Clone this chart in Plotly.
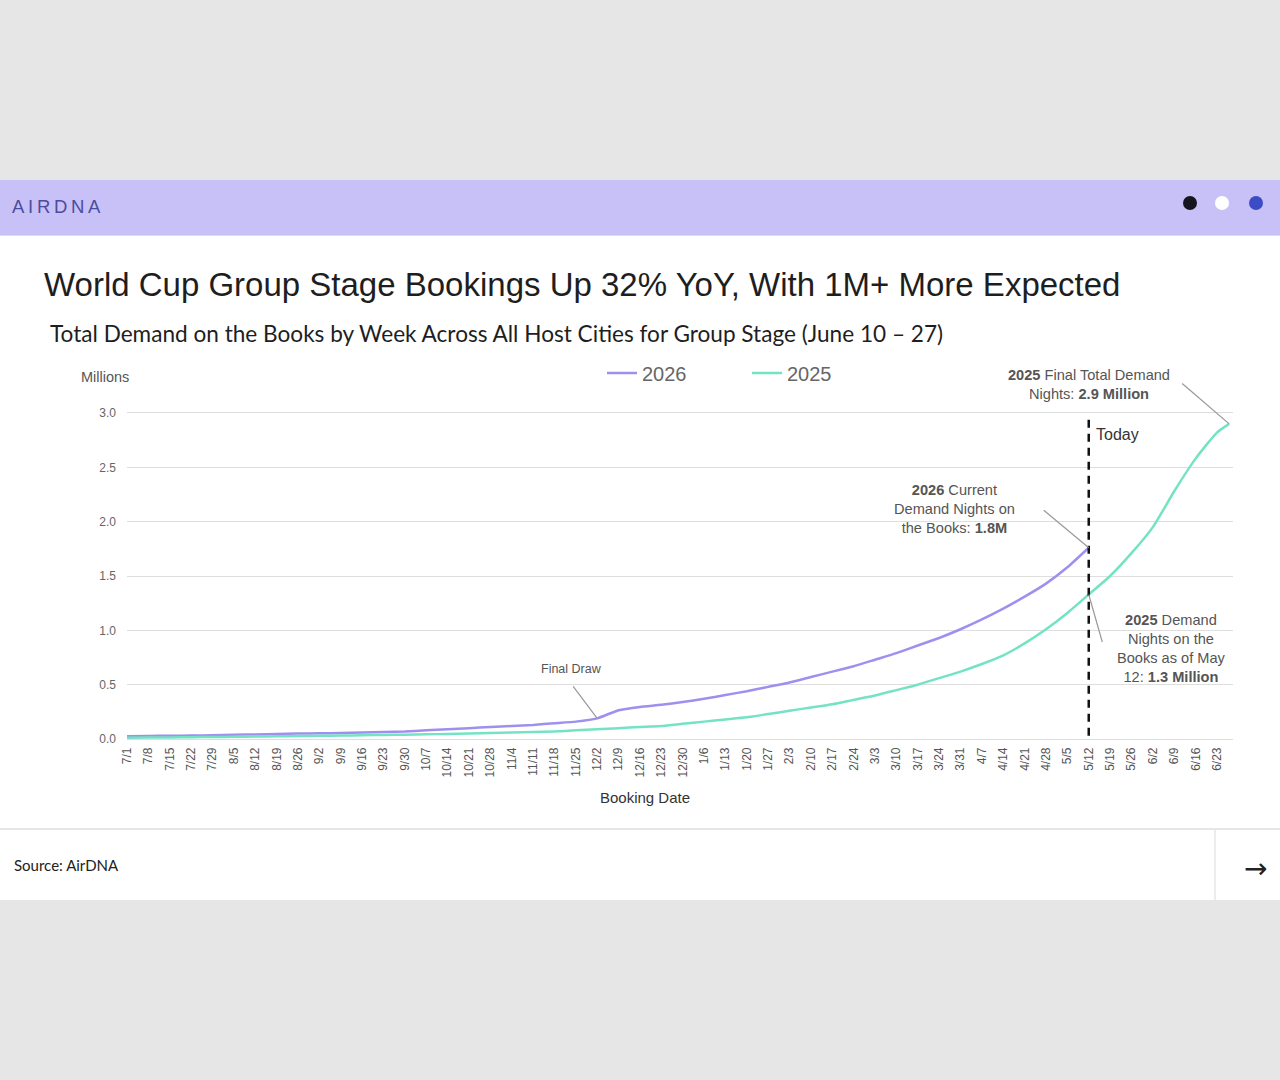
import plotly.graph_objects as go

# ---------------- data ----------------
week_dates = [
    "2025-07-01", "2025-07-08", "2025-07-15", "2025-07-22", "2025-07-29",
    "2025-08-05", "2025-08-12", "2025-08-19", "2025-08-26",
    "2025-09-02", "2025-09-09", "2025-09-16", "2025-09-23", "2025-09-30",
    "2025-10-07", "2025-10-14", "2025-10-21", "2025-10-28",
    "2025-11-04", "2025-11-11", "2025-11-18", "2025-11-25",
    "2025-12-02", "2025-12-09", "2025-12-16", "2025-12-23", "2025-12-30",
    "2026-01-06", "2026-01-13", "2026-01-20", "2026-01-27",
    "2026-02-03", "2026-02-10", "2026-02-17", "2026-02-24",
    "2026-03-03", "2026-03-10", "2026-03-17", "2026-03-24", "2026-03-31",
    "2026-04-07", "2026-04-14", "2026-04-21", "2026-04-28",
    "2026-05-05", "2026-05-12", "2026-05-19", "2026-05-26",
    "2026-06-02", "2026-06-09", "2026-06-16", "2026-06-23",
]
week_labels = [
    "7/1", "7/8", "7/15", "7/22", "7/29", "8/5", "8/12", "8/19", "8/26",
    "9/2", "9/9", "9/16", "9/23", "9/30", "10/7", "10/14", "10/21", "10/28",
    "11/4", "11/11", "11/18", "11/25", "12/2", "12/9", "12/16", "12/23", "12/30",
    "1/6", "1/13", "1/20", "1/27", "2/3", "2/10", "2/17", "2/24",
    "3/3", "3/10", "3/17", "3/24", "3/31", "4/7", "4/14", "4/21", "4/28",
    "5/5", "5/12", "5/19", "5/26", "6/2", "6/9", "6/16", "6/23",
]

# 2026 demand (millions), booking dates 7/1 .. 5/12 (today)
dates_2026 = week_dates[:46]
values_2026 = [
    0.025, 0.028, 0.030, 0.032, 0.035, 0.040, 0.042, 0.045, 0.050,
    0.052, 0.055, 0.060, 0.065, 0.070, 0.080, 0.090, 0.100, 0.110,
    0.120, 0.130, 0.145, 0.160, 0.190, 0.265, 0.295, 0.315, 0.340,
    0.370, 0.405, 0.440, 0.480, 0.520, 0.570, 0.620, 0.670,
    0.730, 0.790, 0.860, 0.930, 1.010, 1.100, 1.200, 1.310, 1.430,
    1.580, 1.760,
]

# 2025 demand (millions), same calendar position one year earlier, to final
dates_2025 = week_dates + ["2026-06-27"]
values_2025 = [
    0.012, 0.013, 0.015, 0.017, 0.019, 0.020, 0.022, 0.025, 0.027,
    0.030, 0.032, 0.035, 0.037, 0.040, 0.043, 0.047, 0.050, 0.055,
    0.060, 0.065, 0.070, 0.080, 0.090, 0.100, 0.110, 0.120, 0.140,
    0.160, 0.180, 0.200, 0.230, 0.260, 0.290, 0.320, 0.360,
    0.400, 0.450, 0.500, 0.560, 0.620, 0.690, 0.770, 0.880, 1.010,
    1.160, 1.330, 1.500, 1.710, 1.950, 2.280, 2.580, 2.820,
    2.900,
]

y_ticks = [0.0, 0.5, 1.0, 1.5, 2.0, 2.5, 3.0]
today_date = "2026-05-12"
final_draw_date = "2025-12-02"

PURPLE = "#9d90ee"
TEAL = "#74e3c4"
FONT = "Arial, Liberation Sans, sans-serif"
W, H = 1280, 1080


def px_x(p):
    return p / W


def px_y(p):
    return 1 - p / H


fig = go.Figure()
fig.add_trace(go.Scatter(x=dates_2026, y=values_2026, name="2026", mode="lines",
                         line=dict(color=PURPLE, width=2.5, shape="spline", smoothing=0.4),
                         cliponaxis=False))
fig.add_trace(go.Scatter(x=dates_2025, y=values_2025, name="2025", mode="lines",
                         line=dict(color=TEAL, width=2.5, shape="spline", smoothing=0.6),
                         cliponaxis=False))

shapes = []
# white card
shapes.append(dict(type="rect", xref="paper", yref="paper", x0=0, x1=1,
                   y0=px_y(900), y1=px_y(180), fillcolor="white", line_width=0, layer="below"))
# header bar
shapes.append(dict(type="rect", xref="paper", yref="paper", x0=0, x1=1,
                   y0=px_y(235), y1=px_y(180), fillcolor="#c8c1f8", line_width=0, layer="below"))
shapes.append(dict(type="line", xref="paper", yref="paper", x0=0, x1=1,
                   y0=px_y(235.5), y1=px_y(235.5), line=dict(color="#dcdcf0", width=1), layer="below"))
# footer separators
shapes.append(dict(type="line", xref="paper", yref="paper", x0=0, x1=1,
                   y0=px_y(829), y1=px_y(829), line=dict(color="#e6e6e6", width=2), layer="below"))
shapes.append(dict(type="line", xref="paper", yref="paper", x0=px_x(1215), x1=px_x(1215),
                   y0=px_y(830), y1=px_y(900), line=dict(color="#e6e6e6", width=1.5), layer="below"))
# dots
for cx, col in [(1190, "#15151f"), (1222, "#ffffff"), (1256, "#3c4cc4")]:
    r = 7
    shapes.append(dict(type="circle", xref="paper", yref="paper",
                       x0=px_x(cx - r), x1=px_x(cx + r), y0=px_y(203 + r), y1=px_y(203 - r),
                       fillcolor=col, line_width=0, layer="below"))
# today dashed line
shapes.append(dict(type="line", xref="x", yref="y", x0=today_date, x1=today_date,
                   y0=0.03, y1=2.98, line=dict(color="#111111", width=2.5, dash="8px,6px")))

ann = []
# logo
ann.append(dict(text="A\u2009I\u2009R\u2009D\u2009N\u2009A", xref="paper", yref="paper",
                x=px_x(10), y=px_y(206), xanchor="left", yanchor="middle", showarrow=False,
                font=dict(family=FONT, size=18.5, color="#4b4d9c")))
# title & subtitle
ann.append(dict(text="World Cup Group Stage Bookings Up 32% YoY, With 1M+ More Expected",
                xref="paper", yref="paper", x=px_x(42), y=px_y(284), xanchor="left", yanchor="middle",
                showarrow=False, font=dict(family=FONT, size=33, color="#1e1e1e")))
ann.append(dict(text="Total Demand on the Books by Week Across All Host Cities for Group Stage (June 10 \u2013 27)",
                xref="paper", yref="paper", x=px_x(48), y=px_y(333), xanchor="left", yanchor="middle",
                showarrow=False, font=dict(family="Lato, sans-serif", size=22.6, color="#1e1e1e")))
# Millions
ann.append(dict(text="Millions", xref="paper", yref="paper", x=px_x(79), y=px_y(377),
                xanchor="left", yanchor="middle", showarrow=False,
                font=dict(family=FONT, size=14.5, color="#555555")))
# Booking Date
ann.append(dict(text="Booking Date", xref="paper", yref="paper", x=px_x(645), y=px_y(797),
                xanchor="center", yanchor="middle", showarrow=False,
                font=dict(family=FONT, size=15, color="#333333")))
# Today
ann.append(dict(text="Today", xref="x", yref="y", x=today_date, y=2.8, xanchor="left", yanchor="middle",
                xshift=5, showarrow=False, font=dict(family=FONT, size=16, color="#333333")))

note_font = dict(family=FONT, size=14.6, color="#555555")
# leader lines (arrow annotations)
ann.append(dict(text=" ", x=dates_2025[-1], y=values_2025[-1], xref="x", yref="y",
                ax=-50, ay=-43, showarrow=True, arrowhead=0, arrowwidth=1.2, arrowcolor="#999999"))
ann.append(dict(text=" ", x=today_date, y=values_2026[-1], xref="x", yref="y",
                ax=-48, ay=-40, showarrow=True, arrowhead=0, arrowwidth=1.2, arrowcolor="#999999"))
ann.append(dict(text=" ", x=today_date, y=values_2025[45], xref="x", yref="y",
                ax=16, ay=56, showarrow=True, arrowhead=0, arrowwidth=1.2, arrowcolor="#999999"))
ann.append(dict(text=" ", x=final_draw_date, y=values_2026[22], xref="x", yref="y",
                ax=-27, ay=-36, showarrow=True, arrowhead=0, arrowwidth=1.2, arrowcolor="#999999"))
# note texts
ann.append(dict(text="<b>2025</b> Final Total Demand<br>Nights: <b>2.9 Million</b>", xref="paper", yref="paper",
                x=px_x(1089), y=px_y(385), xanchor="center", yanchor="middle", showarrow=False,
                font=note_font, align="center"))
ann.append(dict(text="<b>2026</b> Current<br>Demand Nights on<br>the Books: <b>1.8M</b>", xref="paper", yref="paper",
                x=px_x(954), y=px_y(509), xanchor="center", yanchor="middle", showarrow=False,
                font=note_font, align="center"))
ann.append(dict(text="<b>2025</b> Demand<br>Nights on the<br>Books as of May<br>12: <b>1.3 Million</b>",
                xref="paper", yref="paper", x=px_x(1171), y=px_y(648), xanchor="center", yanchor="middle",
                showarrow=False, font=note_font, align="center"))
ann.append(dict(text="Final Draw", xref="paper", yref="paper", x=px_x(571), y=px_y(669),
                xanchor="center", yanchor="middle", showarrow=False,
                font=dict(family=FONT, size=12.5, color="#555555")))
# footer
ann.append(dict(text="Source: AirDNA", xref="paper", yref="paper", x=px_x(12), y=px_y(865),
                xanchor="left", yanchor="middle", showarrow=False,
                font=dict(family="Lato, sans-serif", size=15, color="#222222")))
ann.append(dict(text="\u2192", xref="paper", yref="paper", x=px_x(1255), y=px_y(868),
                xanchor="center", yanchor="middle", showarrow=False,
                font=dict(family="DejaVu Sans, sans-serif", size=28, color="#222222")))

fig.update_layout(
    width=W, height=H,
    margin=dict(l=0, r=0, t=0, b=0, autoexpand=False),
    paper_bgcolor="#e6e6e6",
    plot_bgcolor="rgba(0,0,0,0)",
    font=dict(family=FONT),
    shapes=shapes,
    annotations=ann,
    showlegend=True,
    legend=dict(orientation="h", x=px_x(602), y=px_y(373), xanchor="left", yanchor="middle",
                font=dict(family=FONT, size=20, color="#666666"), bgcolor="rgba(0,0,0,0)",
                entrywidth=100, itemwidth=30),
    xaxis=dict(type="date", domain=[px_x(127), px_x(1233)],
               range=["2025-07-01", "2026-06-28 06:00"],
               tickvals=week_dates, ticktext=week_labels, tickangle=-90,
               tickfont=dict(family=FONT, size=12, color="#555555"), automargin=False,
               showgrid=False, zeroline=False, showline=False, ticks="", ticklabelstandoff=4),
    yaxis=dict(domain=[px_y(740.1), px_y(411.9)], range=[-0.01, 3.01], tickvals=y_ticks, tickformat=".1f",
               tickfont=dict(family=FONT, size=12, color="#666666"), automargin=False,
               showgrid=True, gridcolor="#dedede", gridwidth=1, zeroline=False, showline=False,
               ticks="", ticklabelstandoff=10),
)

fig.write_html("out.html", config={"displayModeBar": False},
               post_script="document.body.style.margin='0px';")
